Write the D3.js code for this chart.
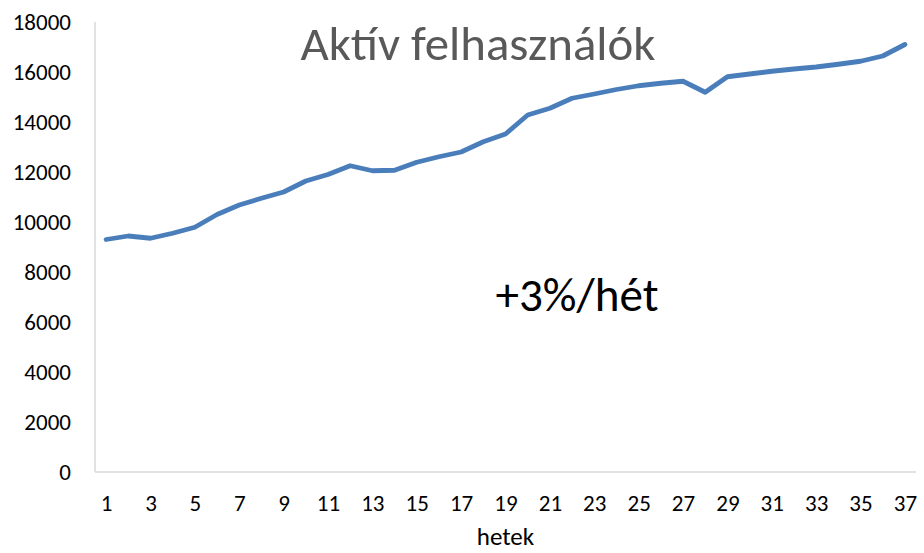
<!DOCTYPE html>
<html>
<head>
<meta charset="utf-8">
<script src="https://cdn.jsdelivr.net/npm/d3@7"></script>
<style>
  body { margin: 0; background: #fff; }
  text { font-family: Carlito, Lato, "Open Sans", sans-serif; }
</style>
</head>
<body>
<svg id="chart"></svg>
<script>
var weeks = d3.range(1, 38);
var users = [9300, 9440, 9350, 9550, 9790, 10300, 10680, 10950, 11200, 11640,
  11900, 12250, 12050, 12070, 12390, 12610, 12800, 13210, 13520, 14280,
  14550, 14950, 15120, 15300, 15450, 15550, 15630, 15190, 15810, 15920,
  16030, 16120, 16200, 16310, 16430, 16640, 17100];
var yTicks = d3.range(0, 18001, 2000);
var xTickLabels = weeks.filter((w) => w % 2 === 1);

var svgWidth = 924;
var svgHeight = 553;
var plotLeft = 95;
var plotRight = 916;
var plotTop = 22;
var plotBottom = 472;

var svg = d3.select("#chart").attr("width", svgWidth).attr("height", svgHeight);

var x = d3.scalePoint().domain(weeks).range([plotLeft, plotRight]).padding(0.5);
var y = d3.scaleLinear().domain([0, 18000]).range([plotBottom, plotTop]);

// axis lines
svg.append("line")
  .attr("x1", plotLeft).attr("x2", plotLeft)
  .attr("y1", plotTop).attr("y2", plotBottom)
  .attr("stroke", "#d9d9d9").attr("stroke-width", 1.5);
svg.append("line")
  .attr("x1", plotLeft).attr("x2", plotRight)
  .attr("y1", plotBottom).attr("y2", plotBottom)
  .attr("stroke", "#d9d9d9").attr("stroke-width", 1.5);

var yAxis = d3.axisLeft(y).tickValues(yTicks).tickSize(0).tickPadding(24).tickFormat(d3.format("d"));
var yAxisNode = svg.append("g")
  .attr("transform", `translate(${plotLeft},0)`)
  .call(yAxis);
yAxisNode.select(".domain").remove();
yAxisNode.selectAll("text").style("font-size", "23px").attr("fill", "#000");

var xAxis = d3.axisBottom(x).tickValues(xTickLabels).tickSize(0).tickPadding(23);
var xAxisNode = svg.append("g")
  .attr("transform", `translate(0,${plotBottom})`)
  .call(xAxis);
xAxisNode.select(".domain").remove();
xAxisNode.selectAll("text").style("font-size", "23px").attr("fill", "#000");

var line = d3.line()
  .x((d, i) => x(weeks[i]))
  .y((d) => y(d));

svg.append("path")
  .datum(users)
  .attr("d", line)
  .attr("fill", "none")
  .attr("stroke", "#4a7ebb")
  .attr("stroke-width", 4.8)
  .attr("stroke-linejoin", "round")
  .attr("stroke-linecap", "round");

svg.append("text")
  .attr("x", 478).attr("y", 60)
  .attr("text-anchor", "middle")
  .style("font-size", "48px")
  .attr("fill", "#595959")
  .attr("textLength", 355)
  .attr("lengthAdjust", "spacingAndGlyphs")
  .text("Aktív felhasználók");

svg.append("text")
  .attr("x", 577).attr("y", 311)
  .attr("text-anchor", "middle")
  .style("font-size", "47px")
  .attr("fill", "#000")
  .attr("textLength", 163)
  .attr("lengthAdjust", "spacingAndGlyphs")
  .text("+3%/hét");

// axis title, kept just inside the bottom edge
svg.append("text")
  .attr("x", (plotLeft + plotRight) / 2).attr("y", 545)
  .attr("text-anchor", "middle")
  .style("font-size", "25px")
  .attr("fill", "#000")
  .text("hetek");
</script>
</body>
</html>
